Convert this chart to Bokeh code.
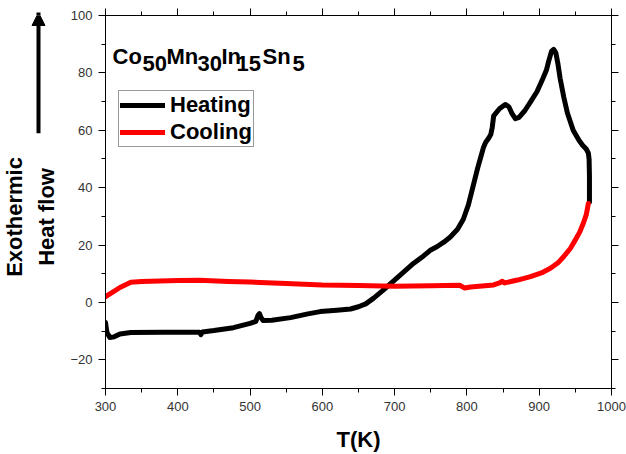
import math
from bokeh.plotting import figure
from bokeh.layouts import row
from bokeh.models import (Range1d, LinearAxis, SingleIntervalTicker, Arrow,
                          NormalHead, Legend, LegendItem, CustomLabelingPolicy)
from bokeh.core.properties import value
from bokeh.embed import file_html
from bokeh.resources import INLINE

# ---------------- data ----------------
heat_T = [300, 302, 306, 312, 320, 335, 380, 430, 432, 434, 450, 477, 500, 508, 511, 513,
          515, 518, 530, 556, 580, 597, 620, 639, 650, 660, 671, 683, 694, 710, 726, 740,
          750, 759, 768, 777, 787, 795, 802, 809, 815, 819, 823, 826, 830, 833, 835, 837,
          845, 853, 858, 862, 867, 872, 880, 888, 897, 904, 910, 913, 917, 920, 923, 926,
          929, 934, 939, 947, 955, 960, 965, 968, 969, 969.5, 969.5]
heat_v = [-7.0, -10.5, -12.2, -12.0, -11.0, -10.5, -10.4, -10.4, -11.2, -10.3, -9.8, -8.8,
          -7.3, -6.6, -4.5, -3.9, -5.2, -6.3, -6.2, -5.3, -4.0, -3.2, -2.7, -2.3, -1.5, -0.5,
          1.5, 4.0, 6.5, 10.0, 13.6, 16.2, 18.3, 19.5, 21.0, 22.8, 25.5, 29.0, 34.0, 41.0,
          47.0, 50.5, 54.1, 55.8, 57.2, 58.5, 61.0, 65.0, 67.5, 69.0, 68.2, 66.0, 64.0, 64.5,
          66.8, 69.9, 73.5, 77.4, 81.0, 84.0, 87.5, 88.2, 87.0, 83.0, 78.0, 71.5, 66.0, 60.0,
          56.5, 54.8, 53.5, 52.0, 50.0, 44.0, 35.0]

cool_T = [300, 310, 320, 335, 350, 400, 430, 470, 500, 550, 600, 650, 700, 750, 790, 797,
          805, 837, 846, 849, 852, 870, 888, 905, 916, 926, 934, 943, 950, 956, 961, 965, 968]
cool_v = [2.0, 3.6, 5.2, 7.0, 7.3, 7.6, 7.7, 7.3, 7.1, 6.6, 6.1, 5.9, 5.6, 5.8, 6.0, 5.0,
          5.4, 6.1, 6.9, 7.4, 6.8, 7.8, 9.0, 10.5, 12.0, 13.8, 16.0, 18.8, 21.8, 24.5, 27.6,
          30.5, 34.5]

series_labels = ["Heating", "Cooling"]
x_label = "T(K)"
y_label_lines = ["Exothermic", "Heat flow"]
formula_parts = ["Co", "50", "Mn", "30", "In", "15", "Sn", "5"]
formula_is_sub = [False, True, False, True, False, True, False, True]

FONT = "Liberation Sans"
X0, X1, Y0, Y1 = 300, 1000, -30, 100
W, H = 626, 454
LEFT_W = 60
FRAME_L, FRAME_R, FRAME_T, FRAME_B = 105, 611, 15, 389
BASE_FIX = 9  # empirical offset of the rendered alphabetic baseline


def px_to_data(xp, yp):
    x = X0 + (xp - FRAME_L) * (X1 - X0) / (FRAME_R - FRAME_L)
    y = Y1 - (yp - FRAME_T) * (Y1 - Y0) / (FRAME_B - FRAME_T)
    return x, y


# ---------------- left strip: arrow + y title ----------------
lf = figure(width=LEFT_W, height=H, x_range=Range1d(0, LEFT_W),
            y_range=Range1d(FRAME_B, FRAME_T),
            output_backend="svg", toolbar_location=None,
            x_axis_location=None, y_axis_location=None,
            min_border=0, min_border_left=0, min_border_right=0,
            min_border_top=FRAME_T, min_border_bottom=H - FRAME_B)
lf.xgrid.visible = False
lf.ygrid.visible = False
lf.outline_line_color = None
lf.background_fill_color = "white"
lf.border_fill_color = "white"
lf.text(x=[23 - BASE_FIX, 55 - BASE_FIX], y=[217, 217], text=y_label_lines, angle=math.pi / 2,
        text_font=value(FONT), text_font_style="bold", text_font_size="22px",
        text_color="black", text_align="center", text_baseline="alphabetic")
lf.add_layout(Arrow(end=NormalHead(size=13, fill_color="black", line_color="black"),
                    x_start=38, y_start=133, x_end=38, y_end=12,
                    line_color="black", line_width=4))

# ---------------- main plot ----------------
p = figure(width=W - LEFT_W, height=H, x_range=Range1d(X0, X1), y_range=Range1d(Y0, Y1),
           output_backend="svg", toolbar_location=None,
           min_border_left=FRAME_L - LEFT_W, min_border_right=W - FRAME_R,
           min_border_top=FRAME_T, min_border_bottom=H - FRAME_B)
p.xgrid.visible = False
p.ygrid.visible = False
p.outline_line_color = None
p.background_fill_color = "white"
p.border_fill_color = "white"

no_labels = CustomLabelingPolicy(code="""
for (const i of indices) {
    indices.unset(i)
}
return indices
""")


def style_axis(ax, show_labels=True):
    ax.axis_line_color = "black"
    ax.axis_line_width = 1
    ax.major_tick_line_color = "black"
    ax.minor_tick_line_color = "black"
    ax.major_tick_in = 0
    ax.major_tick_out = 7
    ax.minor_tick_in = 0
    ax.minor_tick_out = 4
    ax.major_label_text_font = FONT
    ax.major_label_text_font_size = "13px" if show_labels else "0px"
    ax.major_label_text_color = "#333333"
    ax.major_label_standoff = 6 if show_labels else 0
    if not show_labels:
        ax.major_label_policy = no_labels


xa = p.xaxis[0]
ya = p.yaxis[0]
xa.ticker = SingleIntervalTicker(interval=100, num_minor_ticks=2)
ya.ticker = SingleIntervalTicker(interval=20, num_minor_ticks=2)
style_axis(xa)
style_axis(ya)
xa.axis_label = x_label
xa.axis_label_text_font = FONT
xa.axis_label_text_font_style = "bold"
xa.axis_label_text_font_size = "22px"
xa.axis_label_text_color = "black"
xa.axis_label_standoff = 13

top = LinearAxis(ticker=SingleIntervalTicker(interval=100, num_minor_ticks=2))
right = LinearAxis(ticker=SingleIntervalTicker(interval=20, num_minor_ticks=2))
style_axis(top, False)
style_axis(right, False)
p.add_layout(top, "above")
p.add_layout(right, "right")

r1 = p.line(heat_T, heat_v, line_color="black", line_width=5, line_join="round", line_cap="round")
r2 = p.line(cool_T, cool_v, line_color="red", line_width=5, line_join="round", line_cap="round")

legend = Legend(items=[LegendItem(label=series_labels[0], renderers=[r1]),
                       LegendItem(label=series_labels[1], renderers=[r2])],
                location=(13, 241), orientation="vertical",
                border_line_color="#333333", border_line_width=1,
                background_fill_color="white", background_fill_alpha=1.0,
                padding=1, spacing=1, margin=0,
                glyph_width=45, glyph_height=22, label_height=22, label_standoff=5,
                label_text_font=FONT, label_text_font_style="bold",
                label_text_font_size="22px", label_text_color="black")
p.add_layout(legend)

# formula with subscripts (text glyphs placed inside the frame)
piece_px = [112, 142, 166, 197, 221, 236, 262, 292]
fx, fy = [], []
for xp, sub in zip(piece_px, formula_is_sub):
    dx, dy = px_to_data(xp, (72.5 if sub else 65.5) - BASE_FIX)
    fx.append(dx)
    fy.append(dy)
p.text(x=fx, y=fy, text=formula_parts, text_font=value(FONT), text_font_style="bold",
       text_font_size="22px", text_color="black", text_align="left",
       text_baseline="alphabetic")

layout = row(lf, p, spacing=0)
open("out.html", "w").write(file_html(layout, INLINE))
